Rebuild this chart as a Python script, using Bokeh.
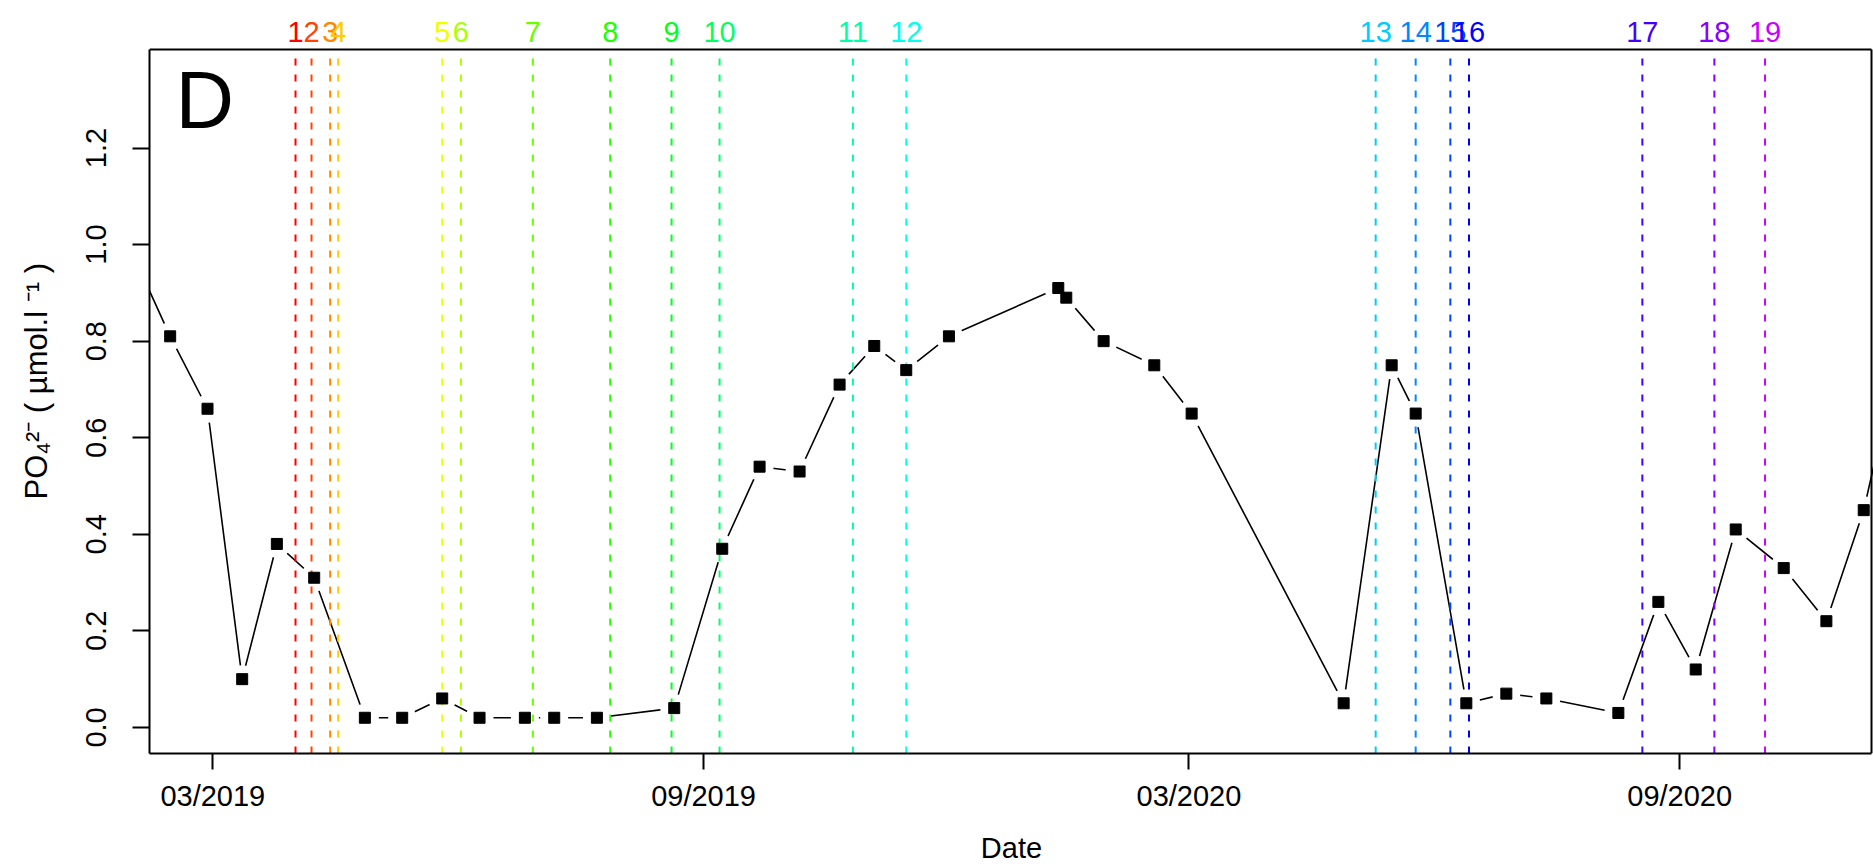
from datetime import datetime
import colorsys
from bokeh.plotting import figure
from bokeh.core.properties import value
from bokeh.models import (ColumnDataSource, FixedTicker, DatetimeTickFormatter,
                          PrintfTickFormatter, Label, Range1d)
from bokeh.embed import file_html
from bokeh.resources import INLINE

# ---------------- data ----------------
sample_dates = ["2019-01-30", "2019-02-13", "2019-02-27", "2019-03-12", "2019-03-25",
                "2019-04-08", "2019-04-27", "2019-05-11", "2019-05-26", "2019-06-09",
                "2019-06-26", "2019-07-07", "2019-07-23", "2019-08-21", "2019-09-08",
                "2019-09-22", "2019-10-07", "2019-10-22", "2019-11-04", "2019-11-16",
                "2019-12-02", "2020-01-12", "2020-01-15", "2020-01-29", "2020-02-17",
                "2020-03-02", "2020-04-28", "2020-05-16", "2020-05-25", "2020-06-13",
                "2020-06-28", "2020-07-13", "2020-08-09", "2020-08-24", "2020-09-07",
                "2020-09-22", "2020-10-10", "2020-10-26", "2020-11-09", "2020-11-23"]
po4_values = [0.98, 0.81, 0.66, 0.10, 0.38, 0.31, 0.02, 0.02, 0.06, 0.02,
              0.02, 0.02, 0.02, 0.04, 0.37, 0.54, 0.53, 0.71, 0.79, 0.74,
              0.81, 0.91, 0.89, 0.80, 0.75, 0.65, 0.05, 0.75, 0.65, 0.05,
              0.07, 0.06, 0.03, 0.26, 0.12, 0.41, 0.33, 0.22, 0.45, 0.79]

event_dates = ["2019-04-01", "2019-04-07", "2019-04-14", "2019-04-17", "2019-05-26",
               "2019-06-02", "2019-06-29", "2019-07-28", "2019-08-20", "2019-09-07",
               "2019-10-27", "2019-11-16", "2020-05-10", "2020-05-25", "2020-06-07",
               "2020-06-14", "2020-08-18", "2020-09-14", "2020-10-03"]
event_labels = [str(i) for i in range(1, 20)]

x_tick_dates = ["2019-03-01", "2019-09-01", "2020-03-01", "2020-09-01"]
y_ticks = [0.0, 0.2, 0.4, 0.6, 0.8, 1.0, 1.2]

panel_letter = "D"
x_title = "Date"
y_title = "PO\u2084\u00b2\u207b  ( \u00b5mol.l \u207b\u00b9 )"


def ms(s):
    return (datetime.fromisoformat(s) - datetime(1970, 1, 1)).total_seconds() * 1000.0


def rainbow(n, end=0.8):
    cols = []
    for i in range(n):
        h = i * end / (n - 1)
        r, g, b = colorsys.hsv_to_rgb(h, 1.0, 1.0)
        cols.append("#%02X%02X%02X" % (round(r * 255), round(g * 255), round(b * 255)))
    return cols


event_colors = rainbow(len(event_dates))

FONT = "Liberation Sans"
W, H = 1873, 868
BOTTOM = 115                     # space below the box
Y0, Y1 = -0.054, 1.404           # value limits of the drawn box
PX_PER_UNIT = 704.0 / (Y1 - Y0)  # box is 704 px tall
Y_TOP = Y0 + (H - BOTTOM) / PX_PER_UNIT   # frame extends up to the canvas top

X0 = ms("2019-02-05T06:00:00")   # left edge of the box
X1 = ms("2020-11-11T22:00:00")   # right edge of the box
X1_FRAME = ms("2020-11-12T16:00:00")  # frame a little wider so the right edge shows fully

src = ColumnDataSource(dict(x=[ms(d) for d in sample_dates], y=po4_values))
ev = ColumnDataSource(dict(x=[ms(d) for d in event_dates], label=event_labels,
                           color=event_colors))

p = figure(width=W, height=H, x_axis_type="datetime",
           output_backend="svg", toolbar_location=None,
           x_range=Range1d(X0, X1_FRAME), y_range=Range1d(Y0, Y_TOP),
           min_border_left=149, min_border_right=0, min_border_top=0,
           min_border_bottom=BOTTOM)

p.background_fill_color = "white"
p.border_fill_color = "white"
p.grid.visible = False
p.outline_line_color = None

# connecting line with gaps around points (R type = "b")
p.line(x="x", y="y", source=src, line_color="black", line_width=1.6)
p.scatter(x="x", y="y", source=src, marker="circle", size=28,
          fill_color="white", line_color=None)

# vertical dashed event lines, from the bottom to the top of the box
p.segment(x0="x", y0=Y0, x1="x", y1=Y1, source=ev, line_color="color",
          line_dash="7 9", line_width=2)

# sample points
p.scatter(x="x", y="y", source=src, marker="square", size=11,
          fill_color="black", line_color="black")

# event numbers above the box
p.text(x="x", y=1.44, text="label", source=ev, text_color="color",
       text_align="center", text_baseline="alphabetic",
       text_font=value(FONT), text_font_size=value("29px"))

# box: top and right edges (left and bottom come from the axes)
p.segment(x0=X0, y0=Y1, x1=X1, y1=Y1, line_color="black", line_width=2)
p.segment(x0=X1, y0=Y0, x1=X1, y1=Y1, line_color="black", line_width=2)

p.add_layout(Label(x=ms("2019-02-15"), y=1.30, text=panel_letter,
                   text_font=FONT, text_font_size="81px",
                   text_align="left", text_baseline="alphabetic", text_color="black"))

# x axis
xa = p.xaxis[0]
xa.ticker = FixedTicker(ticks=[ms(d) for d in x_tick_dates])
fmt = "%m/%Y"
xa.formatter = DatetimeTickFormatter(microseconds=fmt, milliseconds=fmt, seconds=fmt,
                                     minsec=fmt, minutes=fmt, hourmin=fmt, hours=fmt,
                                     days=fmt, months=fmt, years=fmt)
xa.axis_label = x_title
xa.bounds = (X0, X1)

# y axis
ya = p.yaxis[0]
ya.ticker = FixedTicker(ticks=y_ticks)
ya.formatter = PrintfTickFormatter(format="%.1f")
ya.major_label_orientation = "vertical"
ya.axis_label = y_title
ya.bounds = (Y0, Y1)

for ax, tout, std, lstd, lfs in ((xa, 16, 10, 17, "29px"), (ya, 17, 26, 30, "31px")):
    ax.axis_line_color = "black"
    ax.axis_line_width = 2
    ax.major_tick_line_color = "black"
    ax.major_tick_line_width = 2
    ax.major_tick_out = tout
    ax.major_tick_in = 0
    ax.minor_tick_out = 0
    ax.minor_tick_in = 0
    ax.major_label_text_font = FONT
    ax.major_label_text_font_size = "29px"
    ax.major_label_text_color = "black"
    ax.major_label_standoff = std
    ax.axis_label_text_font = FONT
    ax.axis_label_text_font_size = lfs
    ax.axis_label_text_font_style = "normal"
    ax.axis_label_text_color = "black"
    ax.axis_label_standoff = lstd

open("out.html", "w").write(file_html(p, INLINE))
